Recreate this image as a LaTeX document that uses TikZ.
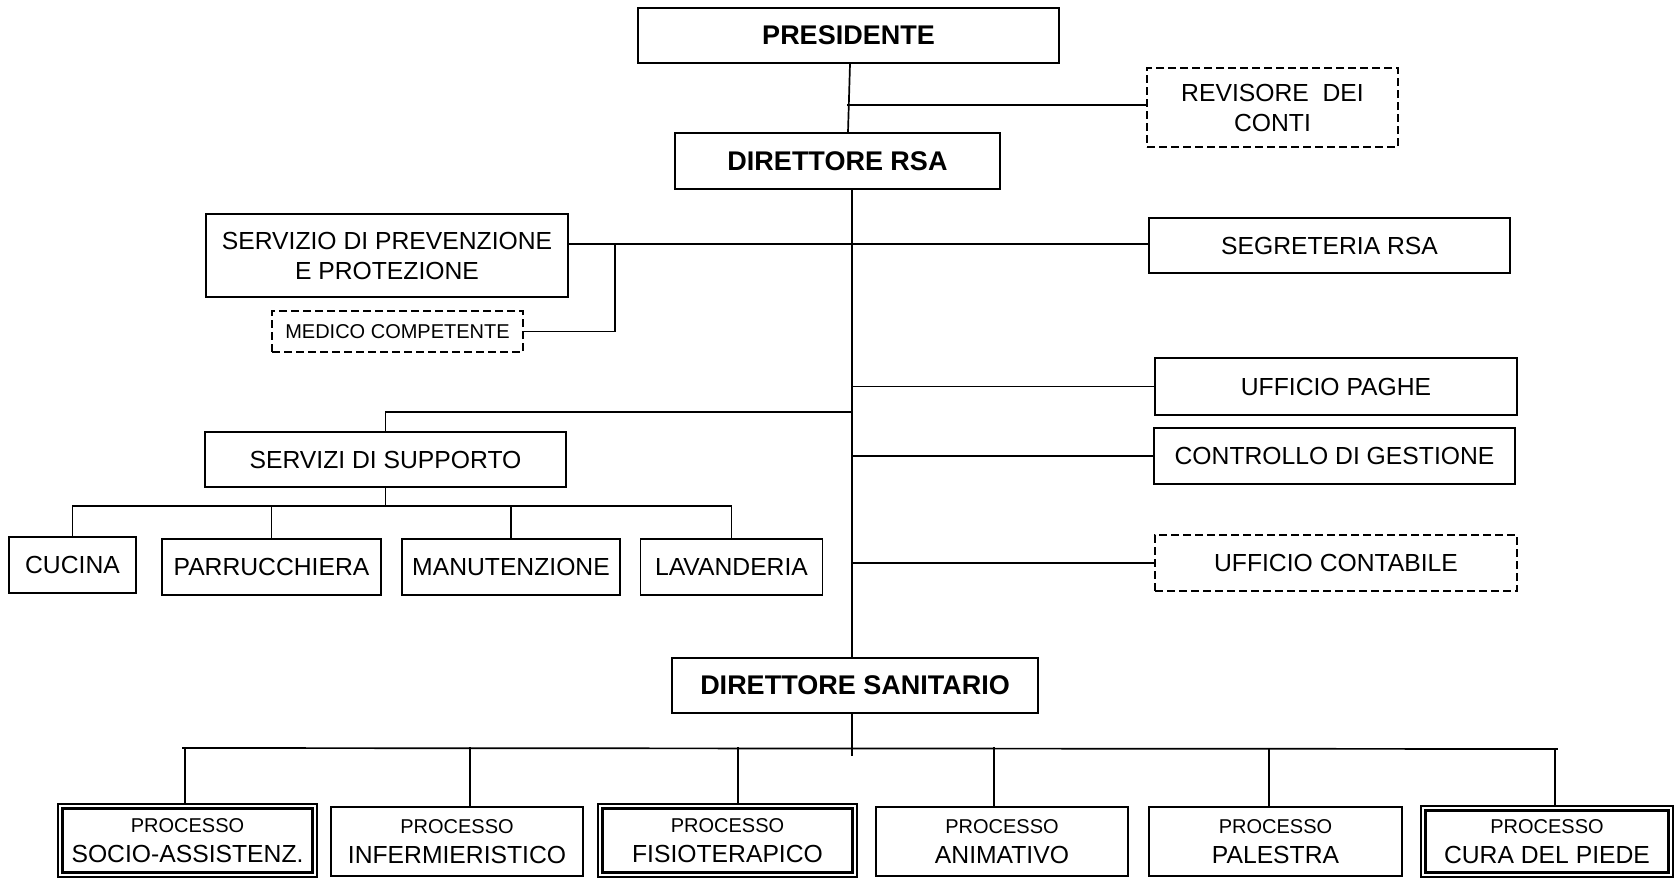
\documentclass[tikz,border=0pt]{standalone}
\usepackage{fontspec}
\setmainfont{Liberation Sans}
\usetikzlibrary{calc}
\newcommand{\fsreg}{\fontsize{24.7}{30}\selectfont}
\newcommand{\fsbold}{\fontsize{27}{32}\selectfont\bfseries}
\newcommand{\fssmall}{\fontsize{20}{24}\selectfont}
\begin{document}
\begin{tikzpicture}[x=1pt,y=-1pt,
  box/.style={draw, line width=1.8pt, rectangle, inner sep=0pt, align=center, font=\fsreg},
  dbox/.style={box, dash pattern=on 8pt off 4pt, line width=1.6pt},
  dblbox/.style={box, line width=1.4pt},
  sz/.style 2 args={minimum width=#1pt, minimum height=#2pt},
  ln/.style={line width=1.7pt, line cap=rect}]
\useasboundingbox (0,0) rectangle (1675,878);
% nodes
\node[box, sz={421}{55}] (pres) at (848.5,35.5) {\fsbold PRESIDENTE};
\node[dbox, sz={251}{79}] (rev) at (1272.5,107.5) {REVISORE\ \ DEI\\CONTI};
\node[box, sz={325}{56}] (dir) at (837.5,161) {\fsbold DIRETTORE RSA};
\node[box, sz={362}{83}] (spp) at (387,255.5) {SERVIZIO DI PREVENZIONE\\E PROTEZIONE};
\node[dbox, sz={251}{41}, font=\fssmall] (med) at (397.5,331.5) {MEDICO COMPETENTE};
\node[box, sz={361}{55}] (seg) at (1329.5,245.5) {SEGRETERIA RSA};
\node[box, sz={362}{57}] (paghe) at (1336,386.5) {UFFICIO PAGHE};
\node[box, sz={361}{56}] (ctrl) at (1334.5,456) {CONTROLLO DI GESTIONE};
\node[dbox, sz={362}{56}] (cont) at (1336,563) {UFFICIO CONTABILE};
\node[box, sz={361}{55}] (ssup) at (385.5,459.5) {SERVIZI DI SUPPORTO};
\node[box, sz={127}{56}] (cucina) at (72.5,565) {CUCINA};
\node[box, sz={219}{56}] (parr) at (271.5,567) {PARRUCCHIERA};
\node[box, sz={218}{56}] (manut) at (511,567) {MANUTENZIONE};
\node[box, sz={182}{56}] (lav) at (731.5,567) {LAVANDERIA};
\node[box, sz={366}{55}] (dsan) at (855,685.5) {\fsbold DIRETTORE SANITARIO};
\node[dblbox, sz={259}{73}] (socio) at (187.5,840.5) {{\fssmall PROCESSO}\\SOCIO-ASSISTENZ.};
\node[box, sz={252}{69}] (inf) at (457,841.5) {{\fssmall PROCESSO}\\INFERMIERISTICO};
\node[dblbox, sz={259}{73}] (fisio) at (727.5,840.5) {{\fssmall PROCESSO}\\FISIOTERAPICO};
\node[box, sz={252}{69}] (anim) at (1002,841.5) {{\fssmall PROCESSO}\\ANIMATIVO};
\node[box, sz={253}{69}] (pal) at (1275.5,841.5) {{\fssmall PROCESSO}\\PALESTRA};
\node[dblbox, sz={252}{71}] (cura) at (1547,841.5) {{\fssmall PROCESSO}\\CURA DEL PIEDE};
% inner frames of double boxes
\foreach \n in {socio,fisio,cura}
  \draw[line width=3pt] ([shift={(5.5pt,5.5pt)}]\n.south west) rectangle ([shift={(-5.5pt,-5.5pt)}]\n.north east);
% connector coordinates
\coordinate (xa) at (850,0);
\coordinate (xb) at (848,0);
\coordinate (sp) at (852,0);
\coordinate (jr) at (848,105);
\coordinate (h1) at (852,244);
\coordinate (mj) at (615,244);
\coordinate (sj) at (852,412);
\coordinate (bus1) at (0,506);
\coordinate (sb) at (852,755);
\coordinate (b2l) at (183,748);
\coordinate (b2r) at (1557,749);
\coordinate (c1) at (185,748);
\coordinate (c2) at (470,748);
\coordinate (c3) at (738,748);
\coordinate (c4) at (994,748);
\coordinate (c5) at (1269,749);
\coordinate (c6) at (1555,749);
% connectors
\draw[ln] (pres.south -| xa) -- (dir.north -| xb);
\draw[ln] (jr) -- (jr -| rev.west);
\draw[ln] (dir.south -| sp) -- (dsan.north -| sp);
\draw[ln] (spp.east |- h1) -- (seg.west |- h1);
\draw[ln] (mj) |- (med.east);
\draw[ln] (sp |- paghe.west) -- (paghe.west);
\draw[ln] (sp |- ctrl.west) -- (ctrl.west);
\draw[ln] (sp |- cont.west) -- (cont.west);
\draw[ln] (sj) -| (ssup.north);
\draw[ln] (ssup.south) -- (ssup.south |- bus1);
\draw[ln] (cucina.north |- bus1) -- (lav.north |- bus1);
\foreach \n in {cucina,parr,manut,lav}
  \draw[ln] (\n.north |- bus1) -- (\n.north);
\draw[ln] (dsan.south -| sp) -- (sb);
\draw[ln] (b2l) -- (b2r);
\draw[ln] (c1) -- (c1 |- socio.north);
\draw[ln] (c2) -- (c2 |- inf.north);
\draw[ln] (c3) -- (c3 |- fisio.north);
\draw[ln] (c4) -- (c4 |- anim.north);
\draw[ln] (c5) -- (c5 |- pal.north);
\draw[ln] (c6) -- (c6 |- cura.north);
\end{tikzpicture}
\end{document}
